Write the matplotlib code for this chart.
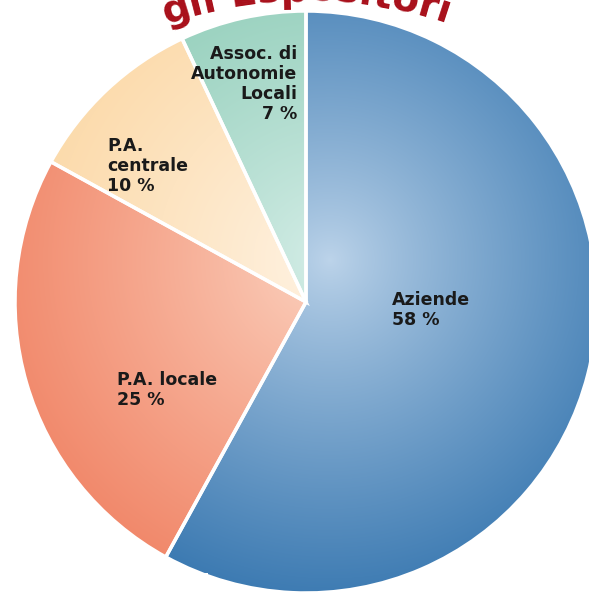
import numpy as np
import matplotlib
matplotlib.use("Agg")
import matplotlib.pyplot as plt
from matplotlib.patches import Rectangle
from matplotlib.font_manager import FontProperties

# dati del grafico
categorie = ["Aziende", "P.A. locale", "P.A. centrale", "Assoc. di Autonomie Locali"]
valori = [58, 25, 10, 7]
etichette = ["Aziende\n58 %", "P.A. locale\n25 %", "P.A.\ncentrale\n10 %",
             "Assoc. di\nAutonomie\nLocali\n7 %"]
titolo = "gli Espositori"

# colori: interno (chiaro) ed esterno (scuro) per il gradiente
col_interno = ["#bdd4ea", "#fcd6c4", "#fff4e6", "#d6eee8"]
col_esterno = ["#2c6fab", "#f07f60", "#fbd49c", "#85c8b1"]

W, H = 589, 594
fig = plt.figure(figsize=(W / 100, H / 100), dpi=100)
ax = fig.add_axes([0, 0, 1, 1])

cx, cy, r = 306, H - 302, 291
wedges, _ = ax.pie(valori, startangle=90, counterclock=False, center=(cx, cy), radius=r,
                   colors=col_esterno,
                   wedgeprops=dict(edgecolor="white", linewidth=2.5))
ax.set_xlim(0, W)
ax.set_ylim(0, H)
ax.set_aspect("equal")
ax.axis("off")

# gradiente radiale dentro ogni spicchio
xx, yy = np.meshgrid(np.arange(W) + 0.5, np.arange(H) + 0.5)
hx, hy = 330, H - 260
t = np.clip(np.hypot(xx - hx, yy - hy) / 390, 0, 1) ** 0.85
for w, ci, ce in zip(wedges, col_interno, col_esterno):
    a = np.array(matplotlib.colors.to_rgb(ci))
    b = np.array(matplotlib.colors.to_rgb(ce))
    img = a + (b - a) * t[..., None]
    im = ax.imshow(img, extent=(0, W, 0, H), origin="lower", zorder=1.5, interpolation="bilinear")
    im.set_clip_path(w)
    # bordo bianco sopra l'immagine
    ax.add_patch(matplotlib.patches.Wedge(w.center, w.r, w.theta1, w.theta2, facecolor="none",
                                          edgecolor="white", linewidth=2.5, zorder=2))

# etichette
font_lab = dict(fontsize=12.5, fontweight="bold", color="#1a1a1a", linespacing=1.15, zorder=5)
ax.text(392, H - 291, etichette[0], ha="left", va="top", **font_lab)
ax.text(117, H - 371, etichette[1], ha="left", va="top", **font_lab)
ax.text(107, H - 137, etichette[2], ha="left", va="top", **font_lab)
ax.text(297, H - 45, etichette[3], ha="right", va="top", multialignment="right", **font_lab)

# titolo curvo sopra la torta (tagliato dal bordo superiore)
fp = FontProperties(family="DejaVu Sans", weight="bold", size=28)
renderer = fig.canvas.get_renderer()
def larghezza(s):
    if not s:
        return 0.0
    return renderer.get_text_width_height_descent(s, fp, ismath=False)[0]

tot = larghezza(titolo)
R = 430
tcx, tcy = 306, H - (1 + R)
for i, ch in enumerate(titolo):
    if ch == " ":
        continue
    centro = larghezza(titolo[:i + 1]) - larghezza(ch) / 2 - tot / 2
    ang = np.pi / 2 - centro / R
    x = tcx + R * np.cos(ang)
    y = tcy + R * np.sin(ang)
    ax.text(x, y, ch, fontproperties=fp, color="#a80f1a", ha="center", va="baseline",
            rotation=np.degrees(ang) - 90, rotation_mode="anchor", zorder=6)

# riquadro bianco in basso
ax.add_patch(Rectangle((0, 0), 208, 21, facecolor="white", edgecolor="none", zorder=7))

fig.savefig("out.png", dpi=100)
